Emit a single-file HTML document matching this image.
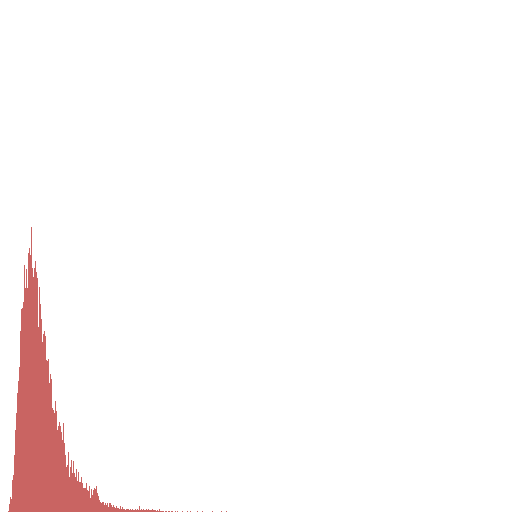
<!DOCTYPE html>
<html><head><meta charset="utf-8"><style>html,body{margin:0;padding:0;background:#fff}svg{display:block}</style></head>
<body>
<svg id="chart" width="512" height="512" viewBox="0 0 512 512"></svg>
<script>
const binStart = 8;
const counts = [1,8,15,13,32,37,57,82,99,119,131,145,181,203,204,210,247,224,243,224,259,264,257,285,244,235,244,251,240,234,185,225,208,193,170,178,181,176,152,151,153,129,138,133,104,102,99,111,101,82,86,90,86,80,72,89,69,57,45,47,60,35,45,52,39,51,39,35,43,31,40,30,30,35,29,24,24,24,29,22,21,26,14,23,17,22,24,23,26,19,16,12,10,9,10,10,7,9,7,9,5,9,9,7,5,7,5,4,6,4,4,3,6,3,5,3,3,2,3,3,
3,2,3,2,3,2,2,3,2,3,2,6,2,3,2,3,2,2,3,2,3,2,2,2,3,2,2,2,1,2,1,3,1,1,1,1,0,1,1,0,1,1,0,1,1,0,0,1,0,1,0,0,0,0,1,0,0,0,0,1,0,0,1,0,0,0,0,0,0,1,0,0,0,0,1,0,0,0,0,0,0,0,0,0,1,0,0,0,0,0,0,0,0,1,0,0,0,0,1,0,0];
const svg = document.getElementById('chart');
const xScale = i => binStart + i;
const yScale = v => 512 - v;
counts.forEach((c, i) => {
  if (c <= 0) return;
  const r = document.createElementNS('http://www.w3.org/2000/svg', 'rect');
  
  
  r.setAttribute('x', xScale(i));
  r.setAttribute('y', yScale(c));
  r.setAttribute('width', 1);
  r.setAttribute('height', 512 - yScale(c));
  r.setAttribute('fill', '#c96462');
  svg.appendChild(r);
});
</script>
</body></html>
